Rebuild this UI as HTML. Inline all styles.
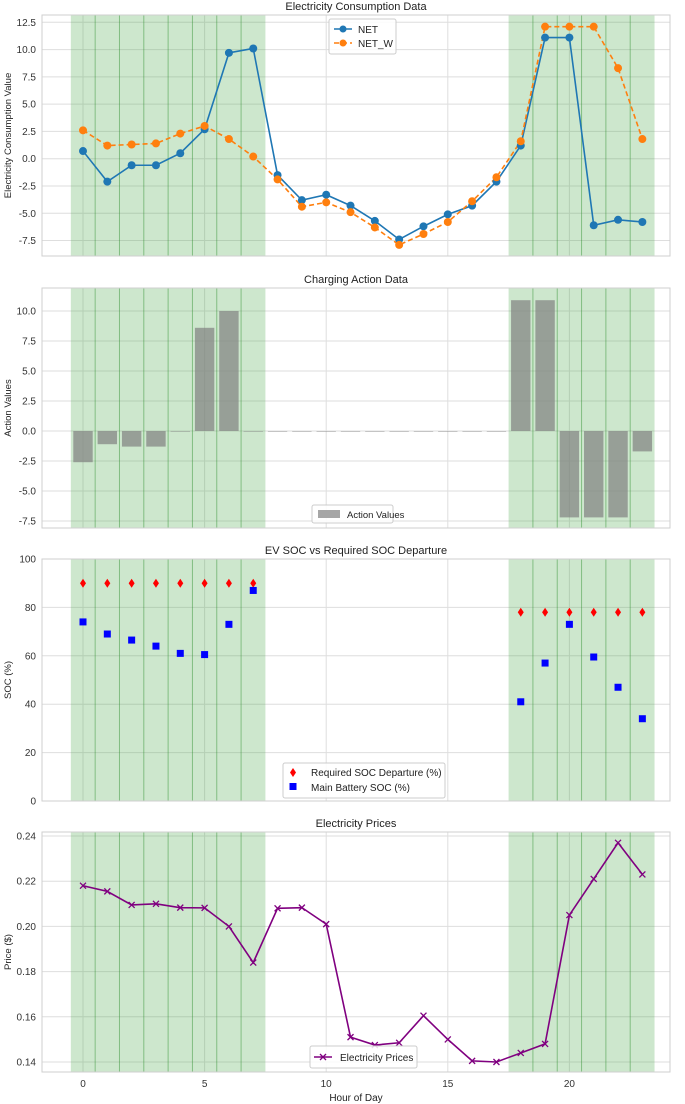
<!DOCTYPE html>
<html><head><meta charset="utf-8"><style>
body{margin:0;background:#fff}
svg{display:block;font-family:"Liberation Sans",sans-serif}
</style></head><body>
<svg id="c" width="685" height="1104" viewBox="0 0 685 1104"></svg>
<script>
const hours=[0,1,2,3,4,5,6,7,8,9,10,11,12,13,14,15,16,17,18,19,20,21,22,23];
const netVals=[0.7,-2.1,-0.6,-0.6,0.5,2.7,9.7,10.1,-1.5,-3.8,-3.3,-4.3,-5.7,-7.4,-6.2,-5.1,-4.3,-2.1,1.2,11.1,11.1,-6.1,-5.6,-5.8];
const netWVals=[2.6,1.2,1.3,1.4,2.3,3.0,1.8,0.2,-1.9,-4.4,-4.0,-4.9,-6.3,-7.9,-6.9,-5.8,-3.9,-1.7,1.6,12.1,12.1,12.1,8.3,1.8];
const actionVals=[-2.6,-1.1,-1.3,-1.3,0,8.6,10.0,0,0,0,0,0,0,0,0,0,0,0,10.9,10.9,-7.2,-7.2,-7.2,-1.7];
const socHoursA=[0,1,2,3,4,5,6,7,18,19,20,21,22,23];
const reqSoc=[90,90,90,90,90,90,90,90,78,78,78,78,78,78];
const mainSoc=[74,69,66.5,64,61,60.5,73,87,41,57,73,59.5,47,34];
const prices=[0.218,0.2155,0.2095,0.210,0.2083,0.2082,0.200,0.184,0.208,0.2083,0.201,0.151,0.1475,0.1485,0.1605,0.150,0.1405,0.140,0.144,0.148,0.205,0.221,0.237,0.223];
const shadeRanges=[[-0.5,7.5],[17.5,23.5]];
const shadeLines=[0.5,1.5,2.5,3.5,4.5,5.5,6.5,18.5,19.5,20.5,21.5,22.5];
const xTicks=[0,5,10,15,20];
const p1Ticks=[-7.5,-5,-2.5,0,2.5,5,7.5,10,12.5];
const p2Ticks=[-7.5,-5,-2.5,0,2.5,5,7.5,10];
const p3Ticks=[0,20,40,60,80,100];
const p4Ticks=[0.14,0.16,0.18,0.2,0.22,0.24];

const S=document.getElementById('c');const NS='http://www.w3.org/2000/svg';
function el(t,a,p){const e=document.createElementNS(NS,t);for(const k in a)e.setAttribute(k,a[k]);(p||S).appendChild(e);return e;}
const L=42,R=670;
const X=h=>83+(h)*24.32;
function panel(name,top,bot,v0,y0,v1,y1,ticks,fmt,title,ylab){
  const Y=v=>y0+(v-v0)*(y1-y0)/(v1-v0);
  const g=el('g',{});
  for(const t of ticks){const y=Y(t);el('line',{x1:L,x2:R,y1:y,y2:y,stroke:'#dedede','stroke-width':1},g);
    const tx=el('text',{x:36,y:y+3.5,'font-size':10,'text-anchor':'end',fill:'#333'},g);tx.textContent=fmt(t);
    }
  for(const t of xTicks)el('line',{x1:X(t),x2:X(t),y1:top,y2:bot,stroke:'#dedede','stroke-width':1},g);
  for(const r of shadeRanges){const s=el('rect',{x:X(r[0]),y:top,width:X(r[1])-X(r[0]),height:bot-top,fill:'rgba(76,168,76,0.28)'},g);
    }
  for(const h of shadeLines)el('line',{x1:X(h),x2:X(h),y1:top,y2:bot,stroke:'rgba(40,140,40,0.45)','stroke-width':1},g);
  el('rect',{x:L,y:top,width:R-L,height:bot-top,fill:'none',stroke:'#cfcfcf'},g);
  const tt=el('text',{x:(L+R)/2,y:top-5,'font-size':11,'text-anchor':'middle',fill:'#222'},g);tt.textContent=title;
  
  const yl=el('text',{x:0,y:0,'font-size':9.5,'text-anchor':'middle',fill:'#222',transform:`translate(11,${(top+bot)/2}) rotate(-90)`},g);yl.textContent=ylab;
  
  return {g,Y};
}
function legend(g,x,y,w,h){el('rect',{x,y,width:w,height:h,fill:'#fff','fill-opacity':0.85,stroke:'#ccc',rx:2},g);}
function line(g,xs,ys,Y,color,dash,name){
  const pts=xs.map((h,i)=>X(h)+','+Y(ys[i])).join(' ');
  const p=el('polyline',{points:pts,fill:'none',stroke:color,'stroke-width':1.6,'stroke-dasharray':dash||''},g);
  return p;}

// Panel 1
let P=panel('consumption-panel',15,256,0,158.7,12.5,22.3,p1Ticks,t=>t.toFixed(1),'Electricity Consumption Data','Electricity Consumption Value');
line(P.g,hours,netVals,P.Y,'#1f77b4','','net-line');
line(P.g,hours,netWVals,P.Y,'#ff7f0e','5,3','net-w-line');
hours.forEach((h,i)=>{const c=el('circle',{cx:X(h),cy:P.Y(netVals[i]),r:4,fill:'#1f77b4'},P.g);});
hours.forEach((h,i)=>{const c=el('circle',{cx:X(h),cy:P.Y(netWVals[i]),r:4,fill:'#ff7f0e'},P.g);});
legend(P.g,329,19,67,35);
el('line',{x1:334,x2:352,y1:29,y2:29,stroke:'#1f77b4','stroke-width':1.6},P.g);el('circle',{cx:343,cy:29,r:3.5,fill:'#1f77b4'},P.g);
el('line',{x1:334,x2:352,y1:43,y2:43,stroke:'#ff7f0e','stroke-width':1.6,'stroke-dasharray':'5,3'},P.g);el('circle',{cx:343,cy:43,r:3.5,fill:'#ff7f0e'},P.g);
let t=el('text',{x:358,y:33,'font-size':10,fill:'#222'},P.g);t.textContent='NET';
t=el('text',{x:358,y:47,'font-size':10,fill:'#222'},P.g);t.textContent='NET_W';

// Panel 2
P=panel('action-panel',288,528,0,431,10,311,p2Ticks,t=>t.toFixed(1),'Charging Action Data','Action Values');
hours.forEach((h,i)=>{const v=actionVals[i];const y0=P.Y(0),y1=P.Y(v);
  const b=el('rect',{x:X(h)-9.7,y:Math.min(y0,y1),width:19.4,height:Math.max(Math.abs(y1-y0),0.6),fill:'rgba(128,128,128,0.7)'},P.g);
  });
legend(P.g,312,505,81,18);el('rect',{x:318,y:510,width:22,height:8,fill:'rgba(128,128,128,0.7)'},P.g);
t=el('text',{x:347,y:518,'font-size':9.5,fill:'#222'},P.g);t.textContent='Action Values';

// Panel 3
P=panel('soc-panel',559,801,0,801,100,559,p3Ticks,t=>String(t),'EV SOC vs Required SOC Departure','SOC (%)');
socHoursA.forEach((h,i)=>{const x=X(h),y=P.Y(reqSoc[i]);
  const d=el('polygon',{points:`${x},${y-4.5} ${x+3},${y} ${x},${y+4.5} ${x-3},${y}`,fill:'#ff0000'},P.g);
  const yy=P.Y(mainSoc[i]);const s=el('rect',{x:x-3.5,y:yy-3.5,width:7,height:7,fill:'#0000ff'},P.g);});
legend(P.g,283,763,162,35);
el('polygon',{points:'293,768 296,772.5 293,777 290,772.5',fill:'#f00'},P.g);el('rect',{x:289.5,y:783,width:7,height:7,fill:'#00f'},P.g);
t=el('text',{x:311,y:776,'font-size':10,fill:'#222'},P.g);t.textContent='Required SOC Departure (%)';
t=el('text',{x:311,y:791,'font-size':10,fill:'#222'},P.g);t.textContent='Main Battery SOC (%)';

// Panel 4
P=panel('price-panel',832,1072,0.14,1062,0.24,836,p4Ticks,t=>t.toFixed(2),'Electricity Prices','Price ($)');
line(P.g,hours,prices,P.Y,'#800080','','price-line');
hours.forEach((h,i)=>{const x=X(h),y=P.Y(prices[i]);const m=el('path',{d:`M${x-3},${y-3}L${x+3},${y+3}M${x-3},${y+3}L${x+3},${y-3}`,stroke:'#800080','stroke-width':1.3},P.g);});
legend(P.g,310,1046,107,22);
el('line',{x1:314,x2:332,y1:1057,y2:1057,stroke:'#800080','stroke-width':1.6},P.g);el('path',{d:'M320,1054L326,1060M320,1060L326,1054',stroke:'#800080','stroke-width':1.3},P.g);
t=el('text',{x:340,y:1061,'font-size':10,fill:'#222'},P.g);t.textContent='Electricity Prices';
for(const h of xTicks){const tx=el('text',{x:X(h),y:1087,'font-size':10,'text-anchor':'middle',fill:'#333'});tx.textContent=String(h);
  }
t=el('text',{x:(L+R)/2,y:1101,'font-size':10,'text-anchor':'middle',fill:'#222'});t.textContent='Hour of Day';

</script>
</body></html>
